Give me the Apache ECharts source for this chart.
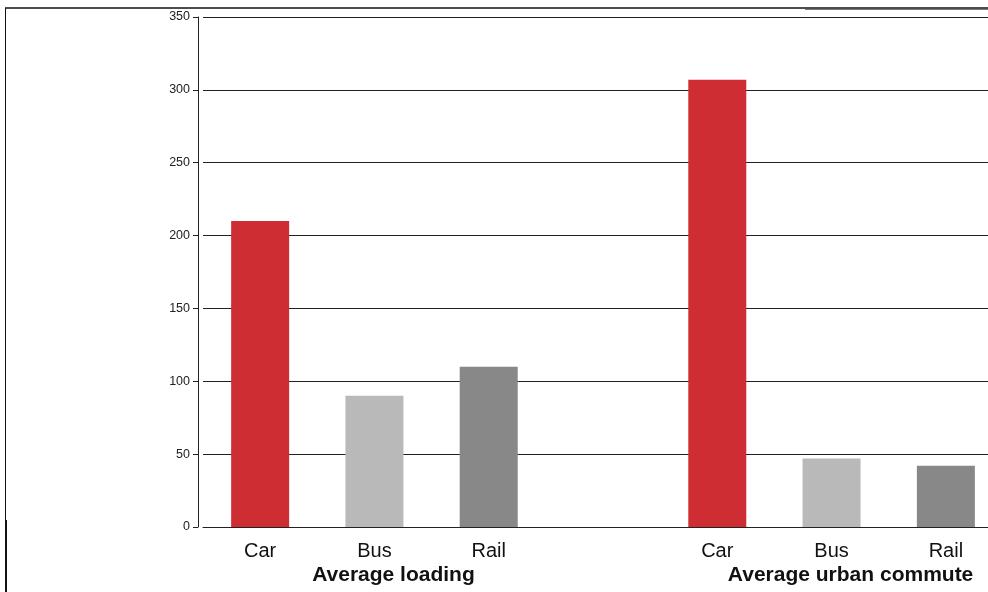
<!DOCTYPE html>
<html lang="en">
	<head>
		<meta charset="UTF-8" />
		<title>Loading and commute</title>
		<script src="https://cdn.jsdelivr.net/npm/echarts@6.0.0/dist/echarts.min.js"></script>
		<style>
			html, body { margin: 0; padding: 0; background: #fff; }
		</style>
	</head>
	<body>
		<div id="main" style="width: 988px; height: 592px"></div>
		<script type="text/javascript">
			// modes in each slot, empty slot separates the two groups
			const modes = ["Car", "Bus", "Rail", "", "Car", "Bus", "Rail"];
			const groups = ["", "Average loading", "", "", "", "Average urban commute", ""];
			const values = [210, 90, 110, null, 307, 47, 42];
			const modeColors = { Car: "#ce2e33", Bus: "#b9b9b9", Rail: "#888888" };
			const yTicks = [0, 50, 100, 150, 200, 250, 300, 350];

			const chart = echarts.init(document.getElementById("main"));
			chart.setOption({
				animation: false,
				grid: { left: 203, top: 17, width: 800, height: 510, outerBoundsMode: "none", containLabel: false },
				xAxis: [
					{
						type: "category",
						data: modes,
						axisLine: { lineStyle: { color: "#222", width: 1 } },
						axisTick: { show: false },
						axisLabel: { fontSize: 20, color: "#111", margin: 14, fontFamily: "Liberation Sans" },
					},
					{
						type: "category",
						data: groups,
						position: "bottom",
						offset: 25,
						axisLine: { show: false },
						axisTick: { show: false },
						axisLabel: {
							interval: 0,
							fontSize: 21,
							fontWeight: "bold",
							color: "#111",
							margin: 13,
							padding: [0, 0, 0, 38],
							fontFamily: "Liberation Sans",
						},
					},
				],
				yAxis: {
					type: "value",
					min: yTicks[0],
					max: yTicks[yTicks.length - 1],
					interval: 50,
					offset: 5,
					axisLine: { show: true, lineStyle: { color: "#222" } },
					axisTick: { show: true, length: 5, lineStyle: { color: "#222" } },
					axisLabel: { fontSize: 12.5, color: "#222", margin: 8, fontFamily: "Liberation Sans" },
					splitLine: { lineStyle: { color: "#222", width: 1 } },
				},
				series: [
					{
						type: "bar",
						xAxisIndex: 0,
						barWidth: 58,
						data: values.map((v, i) => ({
							value: v,
							itemStyle: { color: modeColors[modes[i]] || "#888" },
						})),
					},
				],
				graphic: [
					{ type: "line", shape: { x1: 5, y1: 8, x2: 988, y2: 8 }, style: { stroke: "#111", lineWidth: 1.5 } },
					{ type: "line", shape: { x1: 805, y1: 9.5, x2: 988, y2: 9.5 }, style: { stroke: "#777", lineWidth: 1 } },
					{ type: "line", shape: { x1: 5.5, y1: 8, x2: 5.5, y2: 592 }, style: { stroke: "#111", lineWidth: 1 } },
					{ type: "line", shape: { x1: 6, y1: 520, x2: 6, y2: 592 }, style: { stroke: "#111", lineWidth: 2 } },
				],
			});
		</script>
	</body>
</html>
